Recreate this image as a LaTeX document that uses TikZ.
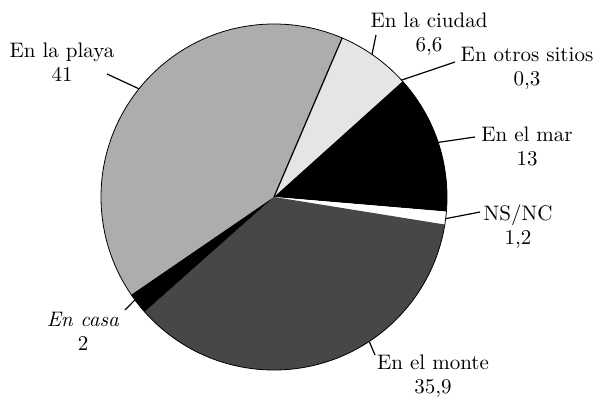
\documentclass[tikz,border=0pt]{standalone}
\usetikzlibrary{calc}
\tikzset{
  lbl/.style={align=center,inner sep=0pt,font=\fontsize{10.5}{12}\selectfont},
  leader/.style={line width=0.6pt},
}
\begin{document}
\begin{tikzpicture}[x=0.5pt,y=0.5pt]
    %initialisation
    \useasboundingbox (0,0) rectangle (604,397);
    %definitions
    \coordinate (O) at (274,200);
    \coordinate (plP) at ($(O)+(141.3:173)$);
    \coordinate (ciP) at ($(O)+(55.5:173)$);
    \coordinate (osP) at ($(O)+(42.5:173)$);
    \coordinate (maP) at ($(O)+(18.4:173)$);
    \coordinate (nsP) at ($(O)+(-7.2:173)$);
    \coordinate (moP) at ($(O)+(-56.6:173)$);
    \coordinate (caP) at ($(O)+(-143.5:173)$);
    %drawing
    \foreach \a/\b/\c in {66.8/214.4/black!32,43.04/66.8/black!10,41.96/43.04/black!10,
      -4.84/41.96/black,-9.16/-4.84/white,-138.4/-9.16/black!72,-145.6/-138.4/black}
      \fill[\c] (O) -- ++(\a:173) arc (\a:\b:173) -- cycle;
    \draw[line width=0.4pt] (O) circle (173);
    \draw[line width=0.6pt] (O) -- ++(66.8:173);
    %label
    \node[lbl] (pl) at (62,335) {En la playa\\41};
    \node[lbl] (ci) at (429,363) {En la ciudad\\6,6};
    \node[lbl] (os) at (527,329) {En otros sitios\\0,3};
    \node[lbl] (ma) at (527,251) {En el mar\\13};
    \node[lbl] (ns) at (518,170) {NS/NC\\1,2};
    \node[lbl] (mo) at (433,21) {En el monte\\35,9};
    \node[lbl] (ca) at (83,66) {\textit{En casa}\\2};
    \draw[leader] ($(pl)+(45,-12)$) -- (plP);
    \draw[leader] ($(ci)+(-53,-1)$) -- (ciP);
    \draw[leader] ($(os)+(-72,6)$) -- (osP);
    \draw[leader] ($(ma)+(-52,9)$) -- (maP);
    \draw[leader] ($(ns)+(-38,15)$) -- (nsP);
    \draw[leader] ($(mo)+(-58,21)$) -- (moP);
    \draw[leader] ($(ca)+(42,21)$) -- (caP);
\end{tikzpicture}
\end{document}
